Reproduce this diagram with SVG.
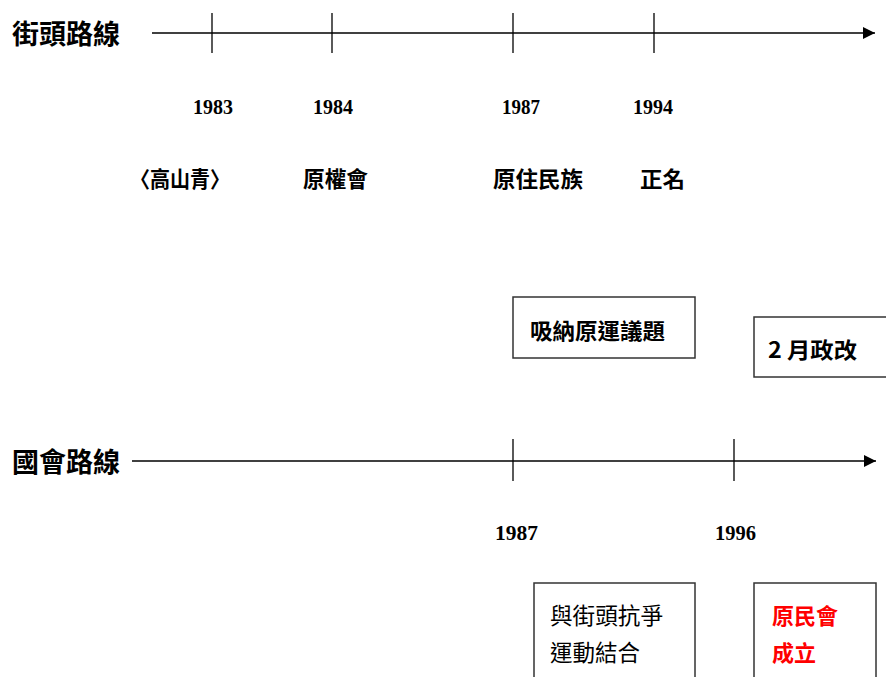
<svg xmlns="http://www.w3.org/2000/svg" width="886" height="677" viewBox="0 0 886 677">
<style>
.cjk{font-family:"Noto Sans CJK TC","Noto Sans CJK SC",sans-serif;font-weight:bold;fill:#000}
.title{font-size:27px}
.lab{font-size:22px}
.reg{font-weight:normal;font-size:22.5px}
.red{fill:#ff0000}
.yr{font-family:"Liberation Serif",serif;font-weight:bold;font-size:22px;fill:#000}
.axis{stroke:#000;stroke-width:1.6;fill:none}
.tick{stroke:#000;stroke-width:1.3}
.box{fill:#fff;stroke:#333;stroke-width:1.5}
</style>
<defs>
<marker id="arr" markerWidth="12" markerHeight="12" refX="12" refY="6" orient="auto" markerUnits="userSpaceOnUse">
<path d="M0,0 L12,6 L0,12 Z" fill="#000"/>
</marker>
</defs>
<g id="connectors">
<line class="axis" x1="152" y1="33" x2="875" y2="33" marker-end="url(#arr)"/>
<line class="tick" x1="212" y1="13" x2="212" y2="53"/>
<line class="tick" x1="332" y1="13" x2="332" y2="53"/>
<line class="tick" x1="513" y1="13" x2="513" y2="53"/>
<line class="tick" x1="654" y1="13" x2="654" y2="53"/>
<line class="axis" x1="132" y1="461" x2="876" y2="461" marker-end="url(#arr)"/>
<line class="tick" x1="513" y1="439" x2="513" y2="481"/>
<line class="tick" x1="734" y1="439" x2="734" y2="481"/>
</g>
<g id="title-street"><text class="cjk title" x="12" y="32" dominant-baseline="central" textLength="108" lengthAdjust="spacingAndGlyphs">街頭路線</text></g>
<g id="title-congress"><text class="cjk title" x="12" y="460" dominant-baseline="central" textLength="108" lengthAdjust="spacingAndGlyphs">國會路線</text></g>
<g id="year-1983"><text class="yr" x="193" y="114" textLength="40" lengthAdjust="spacingAndGlyphs">1983</text></g>
<g id="year-1984"><text class="yr" x="313" y="114" textLength="40" lengthAdjust="spacingAndGlyphs">1984</text></g>
<g id="year-1987a"><text class="yr" x="502" y="114" textLength="38" lengthAdjust="spacingAndGlyphs">1987</text></g>
<g id="year-1994"><text class="yr" x="633" y="114" textLength="40" lengthAdjust="spacingAndGlyphs">1994</text></g>
<g id="label-gaoshanqing"><text class="cjk lab" x="130" y="177" dominant-baseline="central" textLength="100" lengthAdjust="spacingAndGlyphs">〈高山青〉</text></g>
<g id="label-yuanquanhui"><text class="cjk lab" x="303" y="177" dominant-baseline="central" textLength="65" lengthAdjust="spacingAndGlyphs">原權會</text></g>
<g id="label-yuanzhuminzu"><text class="cjk lab" x="493" y="177" dominant-baseline="central" textLength="90" lengthAdjust="spacingAndGlyphs">原住民族</text></g>
<g id="label-zhengming"><text class="cjk lab" x="640" y="177" dominant-baseline="central" textLength="45" lengthAdjust="spacingAndGlyphs">正名</text></g>
<g id="box-xina"><rect class="box" x="513" y="297" width="182" height="61"/><text class="cjk lab" x="530" y="329" dominant-baseline="central" textLength="135" lengthAdjust="spacingAndGlyphs">吸納原運議題</text></g>
<g id="box-zhenggai"><rect class="box" x="754" y="317" width="140" height="60"/><text class="cjk lab" x="768" y="348" dominant-baseline="central" textLength="89" lengthAdjust="spacingAndGlyphs">2 月政改</text></g>
<g id="year-1987b"><text class="yr" x="495" y="540" textLength="43" lengthAdjust="spacingAndGlyphs">1987</text></g>
<g id="year-1996"><text class="yr" x="715" y="540" textLength="41" lengthAdjust="spacingAndGlyphs">1996</text></g>
<g id="box-jiehe"><rect class="box" x="534" y="583" width="161" height="100"/><text class="cjk reg" x="550" y="614" dominant-baseline="central" textLength="113" lengthAdjust="spacingAndGlyphs">與街頭抗爭</text><text class="cjk reg" x="550" y="651" dominant-baseline="central" textLength="90" lengthAdjust="spacingAndGlyphs">運動結合</text></g>
<g id="box-yuanminhui"><rect class="box" x="754" y="583" width="122" height="100"/><text class="cjk lab red" x="772" y="614" dominant-baseline="central" textLength="66" lengthAdjust="spacingAndGlyphs">原民會</text><text class="cjk lab red" x="772" y="651" dominant-baseline="central" textLength="44" lengthAdjust="spacingAndGlyphs">成立</text></g>
</svg>
